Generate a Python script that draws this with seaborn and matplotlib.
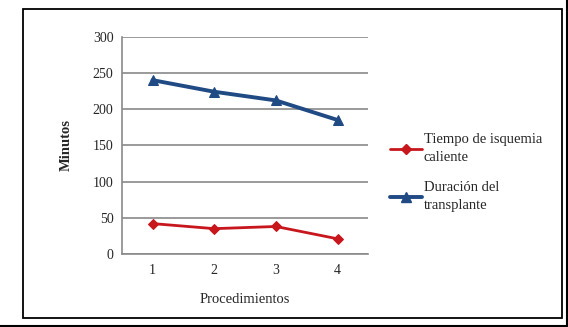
import numpy as np
import pandas as pd
import seaborn as sns
from matplotlib import pyplot as plt
from matplotlib.patches import Rectangle
from matplotlib.lines import Line2D

procedimientos = [1, 2, 3, 4]
isquemia = [42, 35, 38, 21]
duracion = [240, 224, 212, 185]
series_names = ["Tiempo de isquemia\ncaliente", "Duración del\ntransplante"]
y_ticks = [0, 50, 100, 150, 200, 250, 300]

data = pd.DataFrame({
    "proc": procedimientos * 2,
    "minutos": isquemia + duracion,
    "serie": np.repeat(series_names, len(procedimientos)),
})

sns.set_style("white")
plt.rcParams['font.family'] = ['Liberation Serif', 'DejaVu Serif']

fig = plt.figure(figsize=(5.68, 3.27), dpi=100)
ax = fig.add_axes([0.2143, 0.2232, 0.4343, 0.6646])

palette = {series_names[0]: "#c8161d", series_names[1]: "#1f4a84"}
sns.lineplot(data=data, x="proc", y="minutos", hue="serie", style="serie",
             markers={series_names[0]: "D", series_names[1]: "^"}, dashes=False,
             palette=palette, ax=ax, legend=False)

lines = ax.get_lines()
lines[0].set_linewidth(2.0)
lines[0].set_markersize(5)
lines[1].set_linewidth(2.8)
lines[1].set_markersize(7.5)
for ln in lines:
    ln.set_markeredgecolor(ln.get_color())

ax.set_xlim(0.5, 4.5)
ax.set_ylim(0, 300)
ax.set_yticks(y_ticks)
ax.set_xticks(procedimientos)
ax.set_xticks(np.arange(0.5, 4.6, 1), minor=True)
ax.yaxis.grid(True, color="#9a9a9a", linewidth=1.4)
ax.set_axisbelow(True)

for s in ["top", "right"]:
    ax.spines[s].set_visible(False)
for s in ["left", "bottom"]:
    ax.spines[s].set_color("#8a8a8a")
    ax.spines[s].set_linewidth(1.2)

ax.tick_params(axis="y", which="major", direction="out", length=4, width=1,
               color="#8a8a8a", labelsize=10, pad=2)
ax.tick_params(axis="x", which="both", direction="inout", length=5, width=1,
               color="#8a8a8a", labelsize=10, pad=5)

ax.set_xlabel("Procedimientos", fontsize=10.5, labelpad=11)
ax.set_ylabel("Minutos", fontsize=10.5, fontweight="bold", labelpad=14)

handles = [Line2D([0], [0], color=lines[0].get_color(), lw=2.0, marker="D", markersize=5),
           Line2D([0], [0], color=lines[1].get_color(), lw=2.8, marker="^", markersize=7.5)]
leg = fig.legend(handles, series_names, loc="upper left", bbox_to_anchor=(0.664, 0.632),
                 frameon=False, fontsize=10.5, handlelength=2.2, handletextpad=0.1,
                 labelspacing=1.2)
for t in leg.get_texts():
    t.set_linespacing(1.45)

fig.patches.append(Rectangle((0.040, 0.0284), 0.949, 0.943, transform=fig.transFigure,
                             fill=False, edgecolor="black", linewidth=1.3))
fig.lines.append(Line2D([0, 1], [0.003, 0.003], transform=fig.transFigure, color="black", lw=1.5))
fig.lines.append(Line2D([0.998, 0.998], [0, 1], transform=fig.transFigure, color="black", lw=1.5))

fig.savefig("out.png", dpi=100)
